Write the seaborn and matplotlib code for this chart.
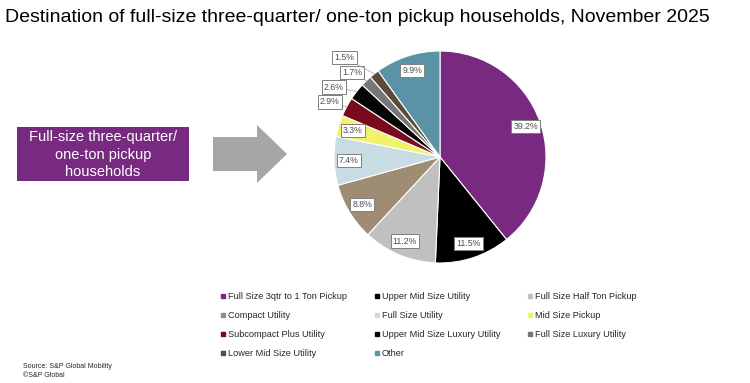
import numpy as np
import seaborn as sns
import matplotlib.pyplot as plt
from matplotlib.patches import Rectangle, FancyArrow
from matplotlib.lines import Line2D

# data
segments = ["Full Size 3qtr to 1 Ton Pickup", "Upper Mid Size Utility", "Full Size Half Ton Pickup",
            "Compact Utility", "Full Size Utility", "Mid Size Pickup",
            "Subcompact Plus Utility", "Upper Mid Size Luxury Utility", "Full Size Luxury Utility",
            "Lower Mid Size Utility", "Other"]
shares = [39.2, 11.5, 11.2, 8.8, 7.4, 3.3, 2.9, 2.6, 1.7, 1.5, 9.9]
seg_colors = ["#772A7F", "#000000", "#C0C0C0", "#9E8C73", "#C9DCE3", "#F0F26B",
              "#7A0A1E", "#050505", "#767676", "#5A4B3B", "#5A93A6"]

title = "Destination of full-size three-quarter/ one-ton pickup households, November 2025"
box_text = "Full-size three-quarter/\none-ton pickup\nhouseholds"
source = "Source: S&P Global Mobility\n\u00a9S&P Global"

# label placement for the thin slices (pie units), the rest sit inside
outside_labels = {6: (-1.04, 0.52), 7: (-1.00, 0.66), 8: (-0.83, 0.80), 9: (-0.90, 0.94)}

sns.set_theme(style="white")
plt.rcParams['font.family'] = ['Liberation Sans', 'DejaVu Sans']
palette = sns.color_palette(seg_colors)

fig = plt.figure(figsize=(7.5, 3.83), dpi=100)

# background layer in pixel units
bg = fig.add_axes([0, 0, 1, 1])
bg.set_xlim(0, 750)
bg.set_ylim(383, 0)
bg.axis('off')
bg.text(5, 18, title, fontsize=14.0, va='center', ha='left', color='black')
bg.add_patch(Rectangle((17, 127), 172, 54, facecolor="#772A7F", edgecolor='none'))
bg.text(103, 154.5, box_text, color='white', fontsize=10.5, ha='center', va='center', linespacing=1.3)
bg.add_patch(FancyArrow(213, 154, 74, 0, width=34, head_width=58, head_length=30,
                        length_includes_head=True, facecolor="#A6A6A6", edgecolor='none'))
bg.text(23, 371, source, fontsize=5, ha='left', va='center', linespacing=1.3)

# pie
cx, cy, r = 440, 157, 106
ax = fig.add_axes([(cx - r) / 750, (383 - cy - r) / 383, 2 * r / 750, 2 * r / 383])
wedges, _ = ax.pie(shares, colors=palette, startangle=90, counterclock=False,
                   wedgeprops=dict(edgecolor='white', linewidth=0.8))
ax.set_xlim(-1, 1)
ax.set_ylim(-1, 1)

box = dict(boxstyle='square,pad=0.25', facecolor='white', edgecolor='#7F7F7F', linewidth=0.7)
for i, (w, v) in enumerate(zip(wedges, shares)):
    mid = np.deg2rad((w.theta1 + w.theta2) / 2)
    lbl = f"{v:.1f}%"
    if i in outside_labels:
        ax.annotate(lbl, xy=(np.cos(mid), np.sin(mid)), xytext=outside_labels[i],
                    ha='center', va='center', fontsize=6.3, color='#505050', bbox=box,
                    arrowprops=dict(arrowstyle='-', color='#A0A0A0', lw=0.5, shrinkA=0, shrinkB=0))
    else:
        ax.text(0.86 * np.cos(mid), 0.86 * np.sin(mid), lbl, ha='center', va='center',
                fontsize=6.3, color='#505050', bbox=box)

# legend, row-major order
handles = [Line2D([], [], marker='s', linestyle='none', markersize=2.8,
                  markerfacecolor=c, markeredgecolor=c) for c in palette]
order = [0, 3, 6, 9, 1, 4, 7, 10, 2, 5, 8]
fig.legend([handles[i] for i in order], [segments[i] for i in order], ncol=3,
           loc='upper left', bbox_to_anchor=(221 / 750, 1 - 292 / 383), frameon=False,
           fontsize=6.6, handlelength=0.5, handletextpad=0.3, columnspacing=2.95,
           labelspacing=1.1, borderpad=0, borderaxespad=0)

fig.savefig("out.png", dpi=100)
